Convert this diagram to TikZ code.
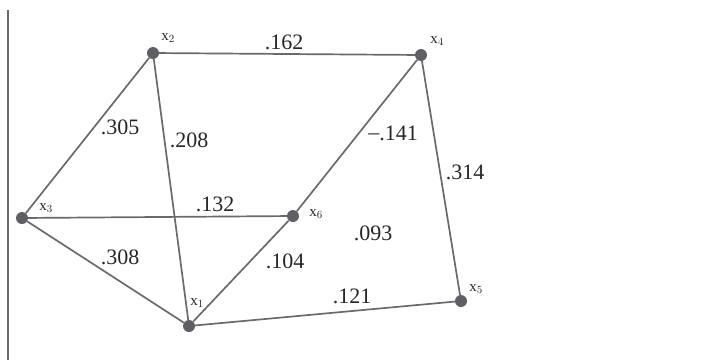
\documentclass[tikz,border=0pt]{standalone}
\usepackage{fontspec}
\setmainfont{Liberation Serif}
\begin{document}
\begin{tikzpicture}[x=1pt,y=-1pt,
  vtx/.style={circle,fill=dotgray,inner sep=0pt,minimum size=12pt},
  edge/.style={draw=linegray,line width=1.7pt},
  wlab/.style={text=black!85,font=\fontsize{22}{24}\selectfont,inner sep=0pt},
  vlab/.style={text=black!85,font=\fontsize{15}{17}\selectfont,inner sep=0pt}]
\definecolor{dotgray}{HTML}{5F6066}
\definecolor{linegray}{HTML}{6A6A6A}
\useasboundingbox (0,0) rectangle (710,360);
\coordinate (ltop) at (8,10);
\coordinate (lbot) at (8,360);
\draw[linegray,line width=1.4pt] (ltop) -- (lbot);
\node[vtx] (x2) at (153,53) {};
\node[vtx] (x4) at (421,55) {};
\node[vtx] (x3) at (22,218) {};
\node[vtx] (x6) at (293,216) {};
\node[vtx] (x5) at (461,301) {};
\node[vtx] (x1) at (189,326) {};
\draw[edge] (x2) -- (x4);
\draw[edge] (x2) -- (x3);
\draw[edge] (x2) -- (x1);
\draw[edge] (x4) -- (x6);
\draw[edge] (x4) -- (x5);
\draw[edge] (x3) -- (x6);
\draw[edge] (x3) -- (x1);
\draw[edge] (x6) -- (x1);
\draw[edge] (x1) -- (x5);
\node[vlab] (l2) at (168,38) {x$_2$};
\node[vlab] (l4) at (437,41) {x$_4$};
\node[vlab] (l3) at (46,208) {x$_3$};
\node[vlab] (l6) at (316,214) {x$_6$};
\node[vlab] (l5) at (476,289) {x$_5$};
\node[vlab] (l1) at (197,303) {x$_1$};
\node[wlab] (w24) at (284,42) {.162};
\node[wlab] (w23) at (120,127) {.305};
\node[wlab] (w21) at (189,140) {.208};
\node[wlab] (w46) at (393,133) {\raisebox{0.1ex}{–}.141};
\node[wlab] (w45) at (465,172) {.314};
\node[wlab] (w36) at (215,204) {.132};
\node[wlab] (w31) at (120,257) {.308};
\node[wlab] (w61) at (285,261) {.104};
\node[wlab] (w0) at (373,233) {.093};
\node[wlab] (w15) at (352,296) {.121};
\end{tikzpicture}
\end{document}
